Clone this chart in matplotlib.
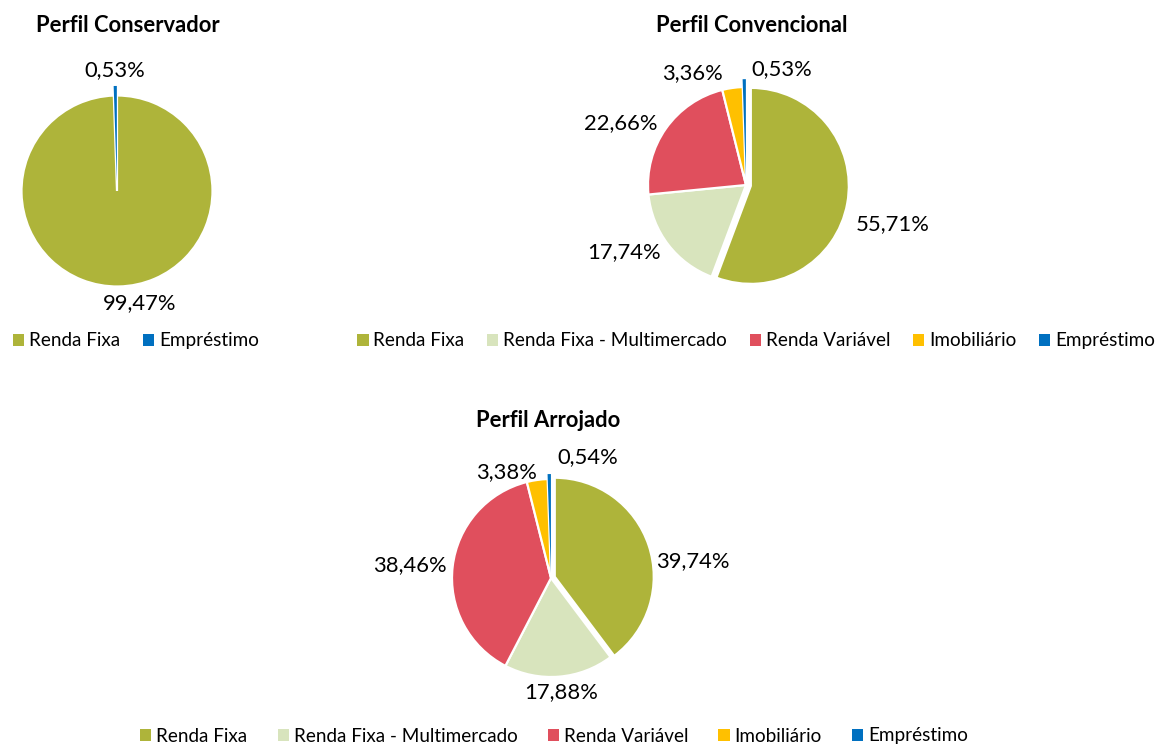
import matplotlib
matplotlib.use('Agg')
import matplotlib.pyplot as plt
from matplotlib.patches import Patch
import numpy as np

plt.rcParams['font.family'] = ['Lato', 'DejaVu Sans']

W, H = 1158, 744

# data
cats_cons = ['Renda Fixa', 'Empréstimo']
vals_cons = [99.47, 0.53]

cats_full = ['Renda Fixa', 'Renda Fixa - Multimercado', 'Renda Variável',
             'Imobiliário', 'Empréstimo']
vals_conv = [55.71, 17.74, 22.66, 3.36, 0.53]
vals_arro = [39.74, 17.88, 38.46, 3.38, 0.54]

colors = {
    'Renda Fixa': '#AEB43A',
    'Renda Fixa - Multimercado': '#D8E4BD',
    'Renda Variável': '#E04F5D',
    'Imobiliário': '#FFC000',
    'Empréstimo': '#0070C0',
}

fig = plt.figure(figsize=(W / 100, H / 100), dpi=100)


def fmt(v):
    return f'{v:.2f}'.replace('.', ',') + '%'


def draw_pie(cats, vals, cx, cy, r, explode, lab_pos, title, title_xy, leg_xy,
             colspace=1.2):
    # axes in pixel units, pie radius = 1
    s = 170
    ax = fig.add_axes([(cx - s) / W, (H - cy - s) / H, 2 * s / W, 2 * s / H])
    wedges, _ = ax.pie(vals, colors=[colors[c] for c in cats], startangle=90,
                       counterclock=False, explode=explode, radius=1,
                       wedgeprops=dict(edgecolor='white', linewidth=1.6))
    wedges[-1].set_linewidth(0)
    for w in wedges:
        w.set_clip_on(False)
    lim = s / r
    ax.set_xlim(-lim, lim)
    ax.set_ylim(-lim, lim)
    ax.set_aspect('equal')
    ax.axis('off')
    for v, (ang, d) in zip(vals, lab_pos):
        a = np.deg2rad(ang)
        ax.text(d * np.cos(a), d * np.sin(a), fmt(v), ha='center', va='center',
                fontsize=15.8, color='#000000')
    fig.text(title_xy[0] / W, 1 - title_xy[1] / H, title, ha='center', va='center',
             fontsize=15.8, fontweight='bold')
    handles = [Patch(facecolor=colors[c], edgecolor='none', label=c) for c in cats]
    fig.legend(handles=handles, loc='center', ncol=len(cats), frameon=False,
               bbox_to_anchor=(leg_xy[0] / W, 1 - leg_xy[1] / H),
               fontsize=13.6, handlelength=0.6, handleheight=0.6,
               handletextpad=0.25, columnspacing=colspace, borderaxespad=0,
               borderpad=0)


draw_pie(cats_cons, vals_cons, 117, 191, 95.5, [0, 0.1],
         [(-78.4, 1.2), (91, 1.27)],
         'Perfil Conservador', (128, 25), (136, 341))

draw_pie(cats_full, vals_conv, 746, 185, 98, [0.05, 0, 0, 0, 0.08],
         [(-14.9, 1.55), (-151, 1.42), (153.8, 1.43), (115.5, 1.26), (72.8, 1.24)],
         'Perfil Convencional', (752, 25), (756, 341))

draw_pie(cats_full, vals_arro, 551, 578, 99, [0.04, 0, 0, 0, 0.05],
         [(6.8, 1.44), (-85, 1.16), (174.7, 1.43), (113, 1.16), (73, 1.28)],
         'Perfil Arrojado', (548, 420), (554, 736), colspace=1.6)

fig.savefig('out.png', dpi=100, facecolor='white')
